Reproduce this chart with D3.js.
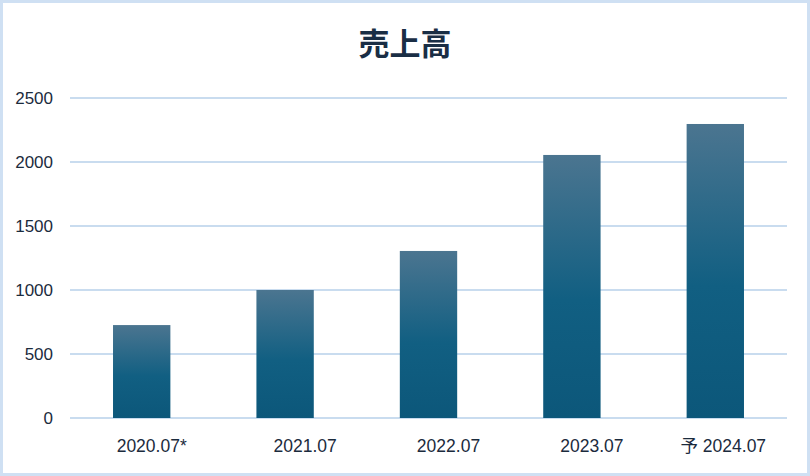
<!DOCTYPE html>
<html><head><meta charset="utf-8">
<script src="https://cdn.jsdelivr.net/npm/d3@7"></script>
<style>html,body{margin:0;padding:0;background:#fff;}svg{display:block;}</style>
</head><body>
<script>
const categories = ["2020.07*", "2021.07", "2022.07", "2023.07", "予 2024.07"];
const sales = [726, 1000, 1305, 2055, 2297];
const yTicks = [0, 500, 1000, 1500, 2000, 2500];
const title = "売上高";

// label horizontal nudges (layout only)
const labelDx = [10, 20, 20, 20, 8];

const W = 810, H = 476;
const svg = d3.select("body").append("svg").attr("width", W).attr("height", H);
svg.append("rect").attr("x",1.5).attr("y",1.5).attr("width",W-3).attr("height",H-3)
  .attr("fill","#fff").attr("stroke","#cfe0f3").attr("stroke-width",3);

const defs = svg.append("defs");
const g = defs.append("linearGradient").attr("id","barGrad").attr("x1",0).attr("y1",0).attr("x2",0).attr("y2",1);
g.append("stop").attr("offset","0%").attr("stop-color","#4b7590");
g.append("stop").attr("offset","55%").attr("stop-color","#115f82");
g.append("stop").attr("offset","100%").attr("stop-color","#0c577a");

const x = d3.scaleBand().domain(categories).range([70, 787]).paddingInner(0.6).paddingOuter(0.3);
const y = d3.scaleLinear().domain([0, 2500]).range([418, 98]);

svg.append("g").selectAll("line").data(yTicks).join("line")
  .attr("x1",70).attr("x2",787).attr("y1",d=>y(d)).attr("y2",d=>y(d))
  .attr("stroke","#c9dcef").attr("stroke-width",2);

svg.append("g").selectAll("text").data(yTicks).join("text")
  .attr("x",53).attr("y",d=>y(d)).attr("dy","0.35em").attr("text-anchor","end")
  .attr("font-family","Liberation Sans, Arial, sans-serif").attr("font-size",17).attr("fill","#1b2b3d")
  .text(d=>d);

svg.append("g").selectAll("rect").data(categories).join("rect")
  .attr("x",d=>x(d)).attr("width",x.bandwidth())
  .attr("y",(d,i)=>y(sales[i])).attr("height",(d,i)=>y(0)-y(sales[i]))
  .attr("fill","url(#barGrad)");

svg.append("g").selectAll("text").data(categories).join("text")
  .attr("x",(d,i)=>x(d)+x.bandwidth()/2+labelDx[i]).attr("y",446).attr("dy","0.35em").attr("text-anchor","middle")
  .attr("font-family","Liberation Sans, 'Noto Sans CJK JP', sans-serif").attr("font-size",17.5).attr("fill","#1b2b3d")
  .text(d=>d);

svg.append("text").attr("x",405).attr("y",44).attr("dy","0.35em").attr("text-anchor","middle")
  .attr("font-family","'Noto Sans CJK JP', sans-serif").attr("font-weight","bold").attr("font-size",31)
  .attr("fill","#1a2e45").text(title);
</script>
</body></html>
